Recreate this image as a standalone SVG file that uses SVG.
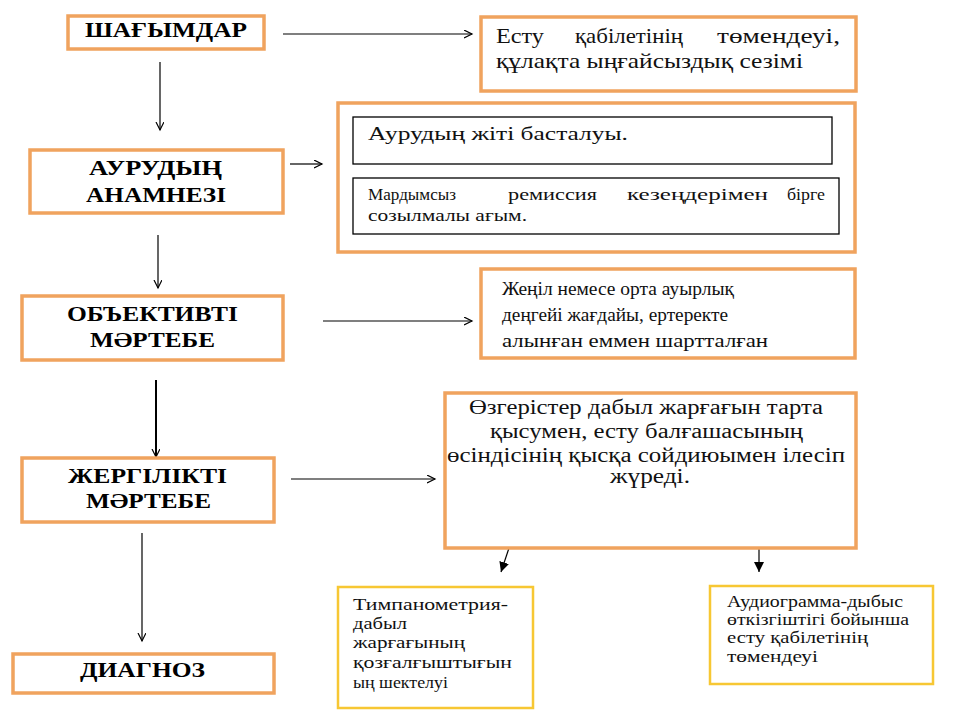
<svg xmlns="http://www.w3.org/2000/svg" width="960" height="720" viewBox="0 0 960 720">
<style>
.ob{fill:#fff;stroke:#F0A35E;stroke-width:3.5}
.yb{fill:#fff;stroke:#F7C733;stroke-width:2.5}
.ib{fill:#fff;stroke:#000;stroke-width:1.3}
.t{font-family:"Liberation Serif","Times New Roman",serif;font-weight:bold;font-size:21px;fill:#000}
.s21,.s20,.s19,.s17,.s16{font-family:"Liberation Serif","Times New Roman",serif;fill:#111}
.s21{font-size:21px}
.s20{font-size:20px}
.s19{font-size:19px}
.s17{font-size:17px}
.s16{font-size:16px}
.c{stroke:#000;stroke-width:1.2;fill:none}
</style>
<defs>
<marker id="open" markerUnits="userSpaceOnUse" markerWidth="10" markerHeight="10" refX="8" refY="4" orient="auto">
<path d="M0,0 L8,4 L0,8" fill="none" stroke="#000" stroke-width="1.2"/>
</marker>
<marker id="fill" markerUnits="userSpaceOnUse" markerWidth="12" markerHeight="12" refX="10" refY="5" orient="auto">
<path d="M0,0 L10,5 L0,10 Z" fill="#000"/>
</marker>
</defs>
<rect width="960" height="720" fill="#fff"/>

<g id="connectors">
<line class="c" x1="283" y1="34" x2="472" y2="34" marker-end="url(#open)"/>
<line class="c" x1="160" y1="62" x2="160" y2="130" marker-end="url(#open)"/>
<line class="c" x1="290" y1="164" x2="322" y2="164" marker-end="url(#open)"/>
<line class="c" x1="158" y1="235" x2="158" y2="288" marker-end="url(#open)"/>
<line class="c" x1="323" y1="321" x2="472" y2="321" marker-end="url(#open)"/>
<line class="c" x1="156" y1="380" x2="156" y2="457" style="stroke-width:2" marker-end="url(#open)"/>
<line class="c" x1="291" y1="479" x2="435" y2="479" marker-end="url(#open)"/>
<line class="c" x1="142" y1="533" x2="142" y2="641" marker-end="url(#open)"/>
<line class="c" x1="509" y1="548" x2="501" y2="572" marker-end="url(#fill)"/>
<line class="c" x1="759" y1="548" x2="759" y2="572" marker-end="url(#fill)"/>
</g>

<g id="shagymdar">
<rect class="ob" x="68" y="16" width="196" height="33"/>
<text class="t" x="85" y="37" textLength="162" lengthAdjust="spacingAndGlyphs">ШАҒЫМДАР</text>
</g>

<g id="estu">
<rect class="ob" x="481" y="17" width="375" height="74"/>
<text class="s21" x="496" y="43" textLength="48" lengthAdjust="spacingAndGlyphs">Есту</text>
<text class="s21" x="575" y="43" textLength="108" lengthAdjust="spacingAndGlyphs">қабілетінің</text>
<text class="s21" x="717" y="43" textLength="123" lengthAdjust="spacingAndGlyphs">төмендеуі,</text>
<text class="s21" x="496" y="68" textLength="307" lengthAdjust="spacingAndGlyphs">құлақта ыңғайсыздық сезімі</text>
</g>

<g id="anamnez">
<rect class="ob" x="30" y="150" width="253" height="63"/>
<text class="t" x="89" y="175" textLength="133" lengthAdjust="spacingAndGlyphs">АУРУДЫҢ</text>
<text class="t" x="86" y="202" textLength="140" lengthAdjust="spacingAndGlyphs">АНАМНЕЗІ</text>
</g>

<g id="anamnez-details">
<rect class="ob" x="338" y="103" width="517" height="149"/>
<rect class="ib" x="353" y="117" width="479" height="47"/>
<text class="s19" x="368" y="140" textLength="260" lengthAdjust="spacingAndGlyphs">Аурудың жіті басталуы.</text>
<rect class="ib" x="353" y="178" width="486" height="56"/>
<text class="s16" x="368" y="200" textLength="88" lengthAdjust="spacingAndGlyphs">Мардымсыз</text>
<text class="s16" x="508" y="200" textLength="89" lengthAdjust="spacingAndGlyphs">ремиссия</text>
<text class="s16" x="627" y="200" textLength="141" lengthAdjust="spacingAndGlyphs">кезеңдерімен</text>
<text class="s16" x="787" y="200" textLength="38" lengthAdjust="spacingAndGlyphs">бірге</text>
<text class="s16" x="368" y="221" textLength="159" lengthAdjust="spacingAndGlyphs">созылмалы ағым.</text>
</g>

<g id="obektivti">
<rect class="ob" x="22" y="296" width="261" height="64"/>
<text class="t" x="67" y="321" textLength="171" lengthAdjust="spacingAndGlyphs">ОБЪЕКТИВТІ</text>
<text class="t" x="90" y="347" textLength="125" lengthAdjust="spacingAndGlyphs">МӘРТЕБЕ</text>
</g>

<g id="zhenil">
<rect class="ob" x="481" y="269" width="374" height="89"/>
<text class="s19" x="502" y="295" textLength="232" lengthAdjust="spacingAndGlyphs">Жеңіл немесе орта ауырлық</text>
<text class="s19" x="502" y="321" textLength="226" lengthAdjust="spacingAndGlyphs">деңгейі жағдайы, ертеректе</text>
<text class="s19" x="502" y="347" textLength="266" lengthAdjust="spacingAndGlyphs">алынған еммен шартталған</text>
</g>

<g id="zhergilikti">
<rect class="ob" x="22" y="458" width="252" height="64"/>
<text class="t" x="68" y="483" textLength="159" lengthAdjust="spacingAndGlyphs">ЖЕРГІЛІКТІ</text>
<text class="t" x="86" y="508" textLength="125" lengthAdjust="spacingAndGlyphs">МӘРТЕБЕ</text>
</g>

<g id="ozgerister">
<rect class="ob" x="445" y="393" width="411" height="155"/>
<text class="s20" x="469" y="414" textLength="354" lengthAdjust="spacingAndGlyphs">Өзгерістер дабыл жарғағын тарта</text>
<text class="s20" x="490" y="438" textLength="313" lengthAdjust="spacingAndGlyphs">қысумен, есту балғашасының</text>
<text class="s20" x="447" y="462" textLength="398" lengthAdjust="spacingAndGlyphs">өсіндісінің қысқа сойдиюымен ілесіп</text>
<text class="s20" x="610" y="483" textLength="80" lengthAdjust="spacingAndGlyphs">жүреді.</text>
</g>

<g id="diagnoz">
<rect class="ob" x="13" y="654" width="261" height="39"/>
<text class="t" x="80" y="677" textLength="125" lengthAdjust="spacingAndGlyphs">ДИАГНОЗ</text>
</g>

<g id="tympanometry">
<rect class="yb" x="338" y="587" width="195" height="121"/>
<text class="s17" x="353" y="610" textLength="155" lengthAdjust="spacingAndGlyphs">Тимпанометрия-</text>
<text class="s17" x="353" y="629" textLength="54" lengthAdjust="spacingAndGlyphs">дабыл</text>
<text class="s17" x="353" y="648" textLength="112" lengthAdjust="spacingAndGlyphs">жарғағының</text>
<text class="s17" x="353" y="668" textLength="159" lengthAdjust="spacingAndGlyphs">қозғалғыштығын</text>
<text class="s17" x="353" y="688" textLength="95" lengthAdjust="spacingAndGlyphs">ың шектелуі</text>
</g>

<g id="audiogram">
<rect class="yb" x="710" y="586" width="223" height="98"/>
<text class="s17" x="727" y="607" textLength="176" lengthAdjust="spacingAndGlyphs">Аудиограмма-дыбыс</text>
<text class="s17" x="727" y="625" textLength="182" lengthAdjust="spacingAndGlyphs">өткізгіштігі бойынша</text>
<text class="s17" x="727" y="643" textLength="141" lengthAdjust="spacingAndGlyphs">есту қабілетінің</text>
<text class="s17" x="727" y="662" textLength="91" lengthAdjust="spacingAndGlyphs">төмендеуі</text>
</g>
</svg>
